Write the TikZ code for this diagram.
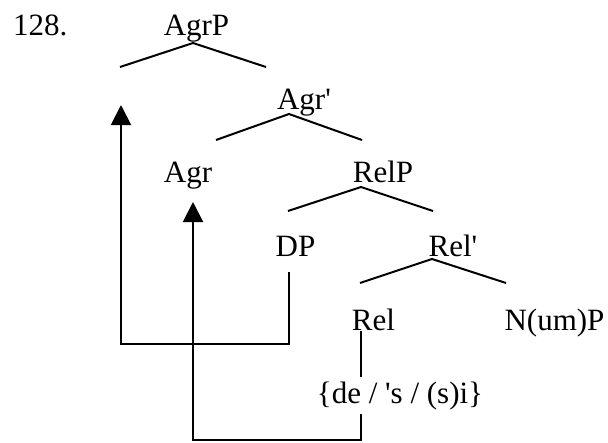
\documentclass[tikz,border=0pt]{standalone}
\usepackage{fontspec}
\setmainfont{Liberation Serif}[Ligatures=TeXOff]
\usetikzlibrary{arrows.meta}
\begin{document}
\begin{tikzpicture}[x=1pt,y=-1pt,
  lbl/.style={anchor=base,inner sep=0pt,font=\fontsize{31}{36}\selectfont},
  branch/.style={line width=2pt},
  move/.style={line width=2pt,-{Triangle[width=20pt,length=20pt]}}]
\useasboundingbox (0,0) rectangle (608,442);
% labels
\node[lbl,anchor=base west] (num) at (13,35) {128.};
\node[lbl] (agrp) at (196.5,35) {AgrP};
\node[lbl] (agrbar) at (304,109) {Agr'};
\node[lbl] (agr) at (188,182) {Agr};
\node[lbl] (relp) at (383,182) {RelP};
\node[lbl] (dp) at (295.5,256) {DP};
\node[lbl] (relbar) at (453,256) {Rel'};
\node[lbl] (rel) at (373.5,330) {Rel};
\node[lbl] (nump) at (554.5,330) {N(um)P};
% branch coordinates
\coordinate (a1) at (193,43);  \coordinate (a1l) at (120,67);  \coordinate (a1r) at (266,67);
\coordinate (a2) at (289,114); \coordinate (a2l) at (216,140); \coordinate (a2r) at (362,140);
\coordinate (a3) at (361,187); \coordinate (a3l) at (288,211); \coordinate (a3r) at (433,211);
\coordinate (a4) at (432,259); \coordinate (a4l) at (360,283); \coordinate (a4r) at (506,283);
\draw[branch] (a1l) -- (a1) -- (a1r);
\draw[branch] (a2l) -- (a2) -- (a2r);
\draw[branch] (a3l) -- (a3) -- (a3r);
\draw[branch] (a4l) -- (a4) -- (a4r);
% movement paths
\coordinate (dpfoot) at (289,272);
\coordinate (dpcorner) at (289,344);
\coordinate (dpleft) at (121,344);
\coordinate (tip1) at (121,105);
\draw[move] (dpfoot) -- (dpcorner) -- (dpleft) -- (tip1);
\coordinate (relfoot) at (361,331);
\coordinate (relcorner) at (361,440);
\coordinate (relleft) at (193,440);
\coordinate (tip2) at (193,202);
\draw[move] (relfoot) -- (relcorner) -- (relleft) -- (tip2);
% lexical items (covers the line)
\node[lbl,fill=white,inner xsep=0pt,inner ysep=4pt] (lex) at (400,403) {\{de / 's / (s)i\}};
\end{tikzpicture}
\end{document}
